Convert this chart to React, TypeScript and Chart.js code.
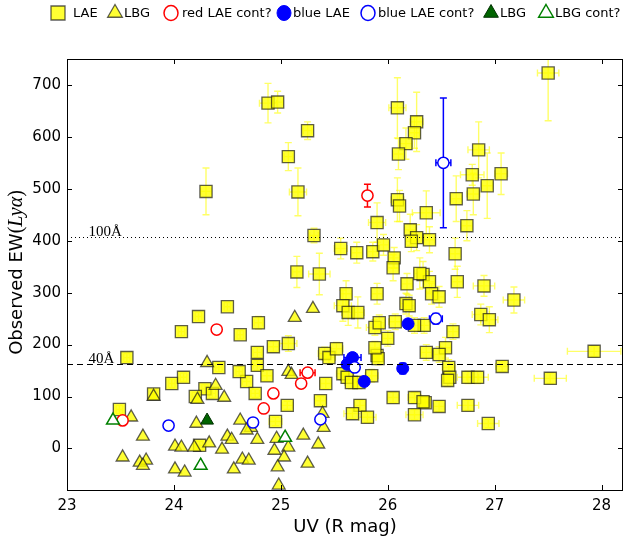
import React, { useEffect, useRef } from "react";
import { Chart, registerables } from "chart.js";

Chart.register(...registerables);

// [UV mag, observed EW, UV error, EW error]
type P = [number, number, number, number];

const xTickValues = [23, 24, 25, 26, 27, 28];
const yTickValues = [0, 100, 200, 300, 400, 500, 600, 700];
const xLimits = [23, 28.2];
const yLimits = [-80, 750];

const refLineValues = [408, 163];
const refLineLabels = ["100Å", "40Å"];
const refLabelX = 23.2;

const seriesNames = ["LAE", "LBG", "red LAE cont?", "blue LAE", "blue LAE cont?", "LBG", "LBG cont?"];

const laePoints: P[] = [
  [24.30, 495, 0.05, 45], [24.88, 665, 0.08, 38], [24.97, 667, 0.05, 21], [25.25, 612, 0.04, 17],
  [25.07, 562, 0.04, 27], [25.16, 494, 0.08, 46], [25.31, 410, 0.04, 14], [26.09, 656, 0.08, 58],
  [26.27, 629, 0.06, 57], [26.25, 608, 0.05, 30], [26.17, 587, 0.06, 30], [26.10, 567, 0.05, 30],
  [26.09, 479, 0.06, 42], [26.11, 467, 0.05, 30], [26.36, 454, 0.13, 42], [25.90, 435, 0.08, 38],
  [26.21, 421, 0.05, 30], [26.27, 406, 0.05, 25], [26.22, 399, 0.05, 20], [26.39, 402, 0.05, 25],
  [27.50, 723, 0.10, 92], [26.85, 575, 0.10, 54], [26.79, 527, 0.11, 20], [26.80, 490, 0.06, 40],
  [26.93, 506, 0.05, 63], [27.06, 529, 0.06, 40], [26.64, 481, 0.05, 44], [26.74, 429, 0.05, 29],
  [25.56, 385, 0.06, 20], [25.71, 377, 0.05, 20], [25.86, 379, 0.05, 18], [25.96, 392, 0.05, 20],
  [26.06, 367, 0.05, 20], [26.05, 348, 0.05, 25], [26.63, 375, 0.05, 30], [26.33, 335, 0.05, 25],
  [26.39, 321, 0.05, 20], [26.41, 298, 0.05, 20], [26.48, 292, 0.05, 20], [26.65, 321, 0.05, 30],
  [26.90, 313, 0.10, 20], [27.18, 286, 0.10, 25], [26.87, 258, 0.08, 20], [26.95, 248, 0.08, 25],
  [26.34, 237, 0.05, 15], [26.61, 225, 0.05, 15], [26.54, 194, 0.05, 20], [26.36, 185, 0.05, 15],
  [26.48, 181, 0.05, 15], [26.57, 156, 0.06, 15], [26.58, 137, 0.05, 12], [26.56, 131, 0.05, 12],
  [26.75, 137, 0.10, 12], [26.84, 137, 0.10, 12], [27.07, 158, 0.06, 10], [27.52, 135, 0.15, 10],
  [27.93, 187, 0.25, 10], [26.35, 88, 0.05, 10], [26.48, 81, 0.05, 10], [26.75, 83, 0.10, 10],
  [26.94, 48, 0.10, 8], [25.15, 340, 0.04, 30], [25.36, 336, 0.10, 40], [25.61, 298, 0.05, 25],
  [25.90, 298, 0.05, 20], [25.58, 275, 0.08, 30], [25.63, 262, 0.06, 25], [25.72, 262, 0.06, 30],
  [26.18, 317, 0.05, 20], [26.30, 337, 0.05, 30], [26.17, 279, 0.05, 20], [26.20, 275, 0.05, 20],
  [25.88, 233, 0.08, 15], [25.92, 242, 0.05, 15], [26.07, 244, 0.06, 15], [26.25, 237, 0.05, 15],
  [26.00, 212, 0.05, 15], [24.93, 196, 0.05, 10], [25.07, 202, 0.08, 15], [24.78, 185, 0.04, 10],
  [24.78, 160, 0.04, 10], [24.87, 140, 0.05, 10], [24.68, 129, 0.04, 10], [24.76, 106, 0.04, 8],
  [25.06, 83, 0.05, 8], [25.37, 92, 0.05, 8], [24.95, 52, 0.06, 8], [25.41, 183, 0.06, 12],
  [25.45, 175, 0.06, 12], [25.52, 192, 0.06, 12], [25.90, 179, 0.05, 12], [25.91, 173, 0.05, 12],
  [25.88, 194, 0.05, 12], [25.58, 144, 0.06, 12], [25.62, 137, 0.06, 12], [25.66, 127, 0.06, 12],
  [25.85, 140, 0.06, 12], [25.73, 127, 0.06, 12], [25.42, 125, 0.05, 10], [26.05, 98, 0.05, 10],
  [26.25, 98, 0.06, 10], [26.33, 90, 0.05, 10], [25.74, 83, 0.05, 10], [25.67, 67, 0.08, 10],
  [25.81, 60, 0.08, 10], [26.25, 65, 0.08, 10], [24.79, 242, 0.04, 12], [24.07, 225, 0.03, 8],
  [24.23, 254, 0.03, 8], [24.50, 273, 0.03, 8], [24.62, 219, 0.03, 8], [23.56, 175, 0.03, 8],
  [24.42, 156, 0.03, 8], [24.61, 148, 0.03, 8], [23.98, 125, 0.03, 8], [24.09, 137, 0.03, 8],
  [24.29, 115, 0.03, 8], [24.20, 100, 0.03, 8], [24.36, 106, 0.03, 8], [23.49, 75, 0.03, 8],
  [24.24, 6, 0.03, 8], [23.81, 105, 0.03, 8],
];

const lbgPoints: P[] = [
  [24.31, 165, 0, 0], [23.81, 100, 0, 0], [24.22, 94, 0, 0], [24.39, 121, 0, 0], [24.47, 98, 0, 0],
  [23.60, 60, 0, 0], [23.71, 23, 0, 0], [23.52, -17, 0, 0], [23.68, -27, 0, 0], [23.74, -23, 0, 0],
  [23.71, -33, 0, 0], [24.01, 4, 0, 0], [24.07, 2, 0, 0], [24.19, 2, 0, 0], [24.33, 10, 0, 0],
  [24.45, -2, 0, 0], [24.50, 23, 0, 0], [24.54, 17, 0, 0], [24.21, 48, 0, 0], [24.62, 54, 0, 0],
  [24.72, 40, 0, 0], [24.78, 17, 0, 0], [24.01, -40, 0, 0], [24.10, -46, 0, 0], [24.56, -40, 0, 0],
  [24.64, -21, 0, 0], [24.70, -23, 0, 0], [25.13, 252, 0, 0], [25.30, 269, 0, 0], [25.07, 148, 0, 0],
  [25.10, 142, 0, 0], [24.68, 35, 0, 0], [24.96, 19, 0, 0], [25.21, 25, 0, 0], [25.35, 8, 0, 0],
  [24.94, -4, 0, 0], [25.07, 2, 0, 0], [25.03, -17, 0, 0], [25.25, -29, 0, 0], [24.97, -36, 0, 0],
  [24.98, -71, 0, 0], [25.39, 67, 0, 0], [25.40, 40, 0, 0],
];

const redContPoints: P[] = [
  [23.52, 54, 0, 0], [24.40, 229, 0, 0], [25.25, 146, 0.07, 0], [25.19, 125, 0, 0],
  [24.93, 106, 0, 0], [24.84, 77, 0, 0], [25.81, 487, 0.02, 22],
];

const blueLaePoints: P[] = [
  [25.67, 175, 0.08, 0], [25.62, 162, 0.03, 0], [25.78, 129, 0.02, 0], [26.14, 154, 0.02, 10],
  [26.19, 240, 0.02, 0],
];

const blueContPoints: P[] = [
  [23.95, 44, 0, 0], [24.74, 50, 0, 0], [25.37, 56, 0, 0], [25.69, 156, 0.02, 0],
  [26.52, 550, 0.07, 125], [26.45, 250, 0.06, 10],
];

const lbgGreenPoints: P[] = [[24.31, 54, 0, 0]];
const lbgContPoints: P[] = [[23.43, 54, 0, 0], [24.25, -33, 0, 0], [25.04, 21, 0, 0]];

const toData = (pts: P[]) => pts.map(([x, y, ex, ey]) => ({ x, y, ex, ey }));

const SANS = '"DejaVu Sans", sans-serif';
const SERIF = '"Liberation Serif", "DejaVu Serif", serif';
const YEL = "rgba(255,255,0,0.8)";
const EDGE = "rgba(25,25,25,0.7)";

const errorBarPlugin = {
  id: "errorBars",
  beforeDatasetsDraw(chart: any) {
    const { ctx, chartArea, scales } = chart;
    const xs = scales.x, ys = scales.y;
    ctx.save();
    ctx.beginPath();
    ctx.rect(chartArea.left, chartArea.top, chartArea.right - chartArea.left, chartArea.bottom - chartArea.top);
    ctx.clip();
    chart.data.datasets.forEach((ds: any) => {
      if (!ds.errorColor) return;
      ctx.strokeStyle = ds.errorColor;
      ctx.lineWidth = ds.errorWidth || 1;
      const cap = 3.5;
      ds.data.forEach((p: any) => {
        const px = xs.getPixelForValue(p.x);
        const py = ys.getPixelForValue(p.y);
        ctx.beginPath();
        if (p.ex) {
          const x0 = xs.getPixelForValue(p.x - p.ex);
          const x1 = xs.getPixelForValue(p.x + p.ex);
          ctx.moveTo(x0, py); ctx.lineTo(x1, py);
          ctx.moveTo(x0, py - cap); ctx.lineTo(x0, py + cap);
          ctx.moveTo(x1, py - cap); ctx.lineTo(x1, py + cap);
        }
        if (p.ey) {
          const y0 = ys.getPixelForValue(p.y - p.ey);
          const y1 = ys.getPixelForValue(p.y + p.ey);
          ctx.moveTo(px, y0); ctx.lineTo(px, y1);
          ctx.moveTo(px - cap, y0); ctx.lineTo(px + cap, y0);
          ctx.moveTo(px - cap, y1); ctx.lineTo(px + cap, y1);
        }
        ctx.stroke();
      });
    });
    ctx.restore();
  },
};

const framePlugin = {
  id: "frame",
  afterDatasetsDraw(chart: any) {
    const { ctx, chartArea: a, scales } = chart;
    const xs = scales.x, ys = scales.y;
    ctx.save();
    ctx.strokeStyle = "#000";
    ctx.lineWidth = 1;
    refLineValues.forEach((v, i) => {
      const py = Math.round(ys.getPixelForValue(v)) + 0.5;
      ctx.setLineDash(i === 0 ? [1, 3] : [6, 4]);
      ctx.beginPath();
      ctx.moveTo(a.left, py);
      ctx.lineTo(a.right, py);
      ctx.stroke();
    });
    ctx.setLineDash([]);
    ctx.fillStyle = "#000";
    ctx.font = `15px ${SERIF}`;
    ctx.textAlign = "left";
    ctx.textBaseline = "alphabetic";
    refLineLabels.forEach((t, i) => {
      ctx.fillText(t, xs.getPixelForValue(refLabelX), ys.getPixelForValue(refLineValues[i]) - 0.5);
    });
    ctx.strokeStyle = "#000";
    ctx.lineWidth = 1;
    ctx.strokeRect(a.left + 0.5, a.top + 0.5, a.right - a.left - 1, a.bottom - a.top);
    const tl = 5;
    ctx.beginPath();
    xTickValues.forEach((v) => {
      const px = Math.round(xs.getPixelForValue(v)) + 0.5;
      ctx.moveTo(px, a.bottom); ctx.lineTo(px, a.bottom - tl);
      ctx.moveTo(px, a.top); ctx.lineTo(px, a.top + tl);
    });
    yTickValues.forEach((v) => {
      const py = Math.round(ys.getPixelForValue(v)) + 0.5;
      ctx.moveTo(a.left, py); ctx.lineTo(a.left + tl, py);
      ctx.moveTo(a.right, py); ctx.lineTo(a.right - tl, py);
    });
    ctx.stroke();
    ctx.restore();
  },
  afterDraw(chart: any) {
    const { ctx, chartArea: a } = chart;
    ctx.save();
    ctx.translate(22, (a.top + a.bottom) / 2 - 2);
    ctx.rotate(-Math.PI / 2);
    ctx.fillStyle = "#000";
    ctx.textBaseline = "alphabetic";
    ctx.textAlign = "left";
    const parts = [
      { t: "Observed EW", f: `18px ${SANS}` },
      { t: "(", f: `20px ${SERIF}` },
      { t: "Lyα", f: `italic 20px ${SERIF}` },
      { t: ")", f: `20px ${SERIF}` },
    ];
    let total = 0;
    const widths = parts.map((p) => { ctx.font = p.f; const w = ctx.measureText(p.t).width; total += w; return w; });
    let cx = -total / 2;
    parts.forEach((p, i) => { ctx.font = p.f; ctx.fillText(p.t, cx, 0); cx += widths[i]; });
    ctx.restore();

    ctx.save();
    const ly = 13;
    const markerX = [58, 115, 171, 284, 368, 491, 546];
    const textX = [73, 124, 182, 293, 378, 500, 555];
    chart.data.datasets.forEach((ds: any, i: number) => {
      const mx = markerX[i];
      ctx.fillStyle = ds.backgroundColor;
      ctx.strokeStyle = ds.borderColor;
      ctx.lineWidth = ds.borderWidth;
      ctx.beginPath();
      if (ds.pointStyle === "rect") {
        ctx.rect(mx - 7, ly - 7, 14, 14);
      } else if (ds.pointStyle === "triangle") {
        const r = 8.5;
        ctx.moveTo(mx, ly - r);
        ctx.lineTo(mx + r * 0.866, ly + r * 0.5);
        ctx.lineTo(mx - r * 0.866, ly + r * 0.5);
        ctx.closePath();
      } else {
        ctx.ellipse(mx, ly, 7, 7.5, 0, 0, Math.PI * 2);
      }
      ctx.fill();
      ctx.stroke();
      ctx.fillStyle = "#000";
      ctx.font = `13px ${SANS}`;
      ctx.textBaseline = "middle";
      ctx.textAlign = "left";
      ctx.fillText(ds.label, textX[i], ly + 1);
    });
    ctx.restore();
  },
};

export default function App() {
  const ref = useRef<HTMLCanvasElement | null>(null);
  useEffect(() => {
    if (!ref.current) return;
    const mk = (i: number, pts: P[], style: any, order: number) => ({
      label: seriesNames[i],
      data: toData(pts),
      showLine: false,
      order,
      ...style,
    });
    const chart = new Chart(ref.current, {
      type: "scatter",
      data: {
        datasets: [
          mk(0, laePoints, { pointStyle: "rect", pointRadius: 8.6, backgroundColor: YEL, borderColor: EDGE, borderWidth: 1.3, errorColor: "rgba(255,255,0,0.6)", errorWidth: 1.4 }, 7),
          mk(1, lbgPoints, { pointStyle: "triangle", pointRadius: 7.4, backgroundColor: YEL, borderColor: EDGE, borderWidth: 1.3 }, 6),
          mk(2, redContPoints, { pointStyle: "circle", pointRadius: 5.6, backgroundColor: "#ffffff", borderColor: "#ff0000", borderWidth: 1.5, errorColor: "#ff0000", errorWidth: 1.5 }, 5),
          mk(3, blueLaePoints, { pointStyle: "circle", pointRadius: 6, backgroundColor: "#0000ff", borderColor: "#0000ff", borderWidth: 1, errorColor: "#0000ff", errorWidth: 1.5 }, 4),
          mk(4, blueContPoints, { pointStyle: "circle", pointRadius: 5.6, backgroundColor: "#ffffff", borderColor: "#0000ff", borderWidth: 1.5, errorColor: "#0000ff", errorWidth: 1.5 }, 3),
          mk(5, lbgGreenPoints, { pointStyle: "triangle", pointRadius: 7.4, backgroundColor: "#006400", borderColor: "#003000", borderWidth: 1 }, 2),
          mk(6, lbgContPoints, { pointStyle: "triangle", pointRadius: 7.4, backgroundColor: "#ffffff", borderColor: "#008000", borderWidth: 1.5 }, 1),
        ] as any,
      },
      options: {
        responsive: false,
        animation: false,
        events: [],
        layout: { padding: { left: 0, right: 17, top: 59, bottom: 0 } },
        plugins: { legend: { display: false }, tooltip: { enabled: false } },
        scales: {
          x: {
            type: "linear",
            min: xLimits[0],
            max: xLimits[1],
            afterBuildTicks: (s: any) => { s.ticks = xTickValues.map((v) => ({ value: v })); },
            afterFit: (s: any) => { s.height = 50; },
            grid: { display: false, drawTicks: false },
            border: { display: false },
            ticks: { font: { family: SANS, size: 15 }, color: "#000", padding: 7, maxRotation: 0 },
            title: { display: true, text: "UV (R mag)", font: { family: SANS, size: 18 }, color: "#000", padding: { top: 0, bottom: 2 } },
          },
          y: {
            type: "linear",
            min: yLimits[0],
            max: yLimits[1],
            afterBuildTicks: (s: any) => { s.ticks = yTickValues.map((v) => ({ value: v })); },
            afterFit: (s: any) => { s.width = 67; },
            grid: { display: false, drawTicks: false },
            border: { display: false },
            ticks: { font: { family: SANS, size: 15 }, color: "#000", padding: 6 },
            title: { display: false },
          },
        },
      } as any,
      plugins: [errorBarPlugin, framePlugin],
    });
    return () => chart.destroy();
  }, []);
  return (
    <div style={{ position: "absolute", left: 0, top: 0, width: 640, height: 540, background: "#fff" }}>
      <canvas ref={ref} width={640} height={540} style={{ display: "block" }} />
    </div>
  );
}
